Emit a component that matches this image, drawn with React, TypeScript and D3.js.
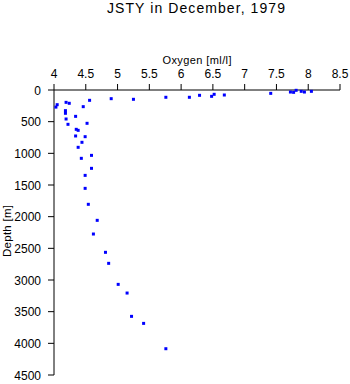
import React from "react";
import * as d3 from "d3";

const title = "JSTY in December, 1979";
const xLabel = "Oxygen [ml/l]";
const yLabel = "Depth [m]";
const xTicks = [4, 4.5, 5, 5.5, 6, 6.5, 7, 7.5, 8, 8.5];
const yTicks = [0, 500, 1000, 1500, 2000, 2500, 3000, 3500, 4000, 4500];

const oxygen = [
  8.05, 7.94, 7.89, 7.81, 7.77, 7.72, 7.41, 6.68, 6.52, 6.48, 6.29, 6.13, 5.76, 5.25, 4.9,
  4.56, 4.03, 4.05, 4.19, 4.24, 4.46, 4.18, 4.18, 4.34, 4.19, 4.52, 4.22, 4.35, 4.38, 4.34,
  4.49, 4.44, 4.38, 4.59, 4.43, 4.59, 4.49, 4.49, 4.54, 4.68, 4.62, 4.81, 4.86, 5.01, 5.15,
  5.22, 5.41, 5.76,
];
const depth = [
  21, 32, 21, 5, 37, 32, 53, 79, 68, 100, 84, 115, 115, 147, 137,
  163, 270, 232, 195, 210, 263, 326, 368, 416, 458, 526, 542, 621, 637, 726,
  737, 826, 905, 1032, 1079, 1237, 1348, 1553, 1805, 2058, 2274, 2563, 2737, 3069, 3206,
  3574, 3685, 4085,
];

export default function App() {
  const x = d3.scaleLinear().domain([4, 8.5]).range([54, 340]);
  const y = d3.scaleLinear().domain([0, 4500]).range([90, 375]);
  const font = "'Liberation Sans', Arial, sans-serif";
  return (
    <svg
      width={350}
      height={384}
      style={{ position: "absolute", left: 0, top: 0, background: "#fff" }}
      fontFamily={font}
    >
      <text x={196} y={13} fontSize={14} textAnchor="middle" textLength={178} fill="#000">
        {title}
      </text>
      <text x={197} y={64} fontSize={11} textAnchor="middle" textLength={69} fill="#000">
        {xLabel}
      </text>
      <text
        transform={`translate(11,231) rotate(-90)`}
        fontSize={11.5}
        textAnchor="middle"
        textLength={52}
        fill="#000"
      >
        {yLabel}
      </text>
      <line x1={x(4)} x2={x(8.5)} y1={y(0)} y2={y(0)} stroke="#000" />
      <line x1={x(4)} x2={x(4)} y1={y(0)} y2={y(4500)} stroke="#000" />
      {xTicks.map((t) => (
        <g key={"xt" + t}>
          <line x1={x(t)} x2={x(t)} y1={y(0)} y2={y(0) - 6} stroke="#000" />
          <text x={x(t)} y={78} fontSize={12} textAnchor="middle" fill="#000">
            {String(t)}
          </text>
        </g>
      ))}
      {yTicks.map((t) => (
        <g key={"yt" + t}>
          <line x1={x(4) - 6} x2={x(4)} y1={y(t)} y2={y(t)} stroke="#000" />
          <text x={41} y={y(t) + 4.5} fontSize={12} textAnchor="end" fill="#000">
            {String(t)}
          </text>
        </g>
      ))}
      {oxygen.map((o, i) => (
        <rect
          key={"p" + i}
          x={x(o) - 1.5}
          y={y(depth[i]) - 1.5}
          width={3}
          height={3}
          fill="#0000ff"
        />
      ))}
    </svg>
  );
}
